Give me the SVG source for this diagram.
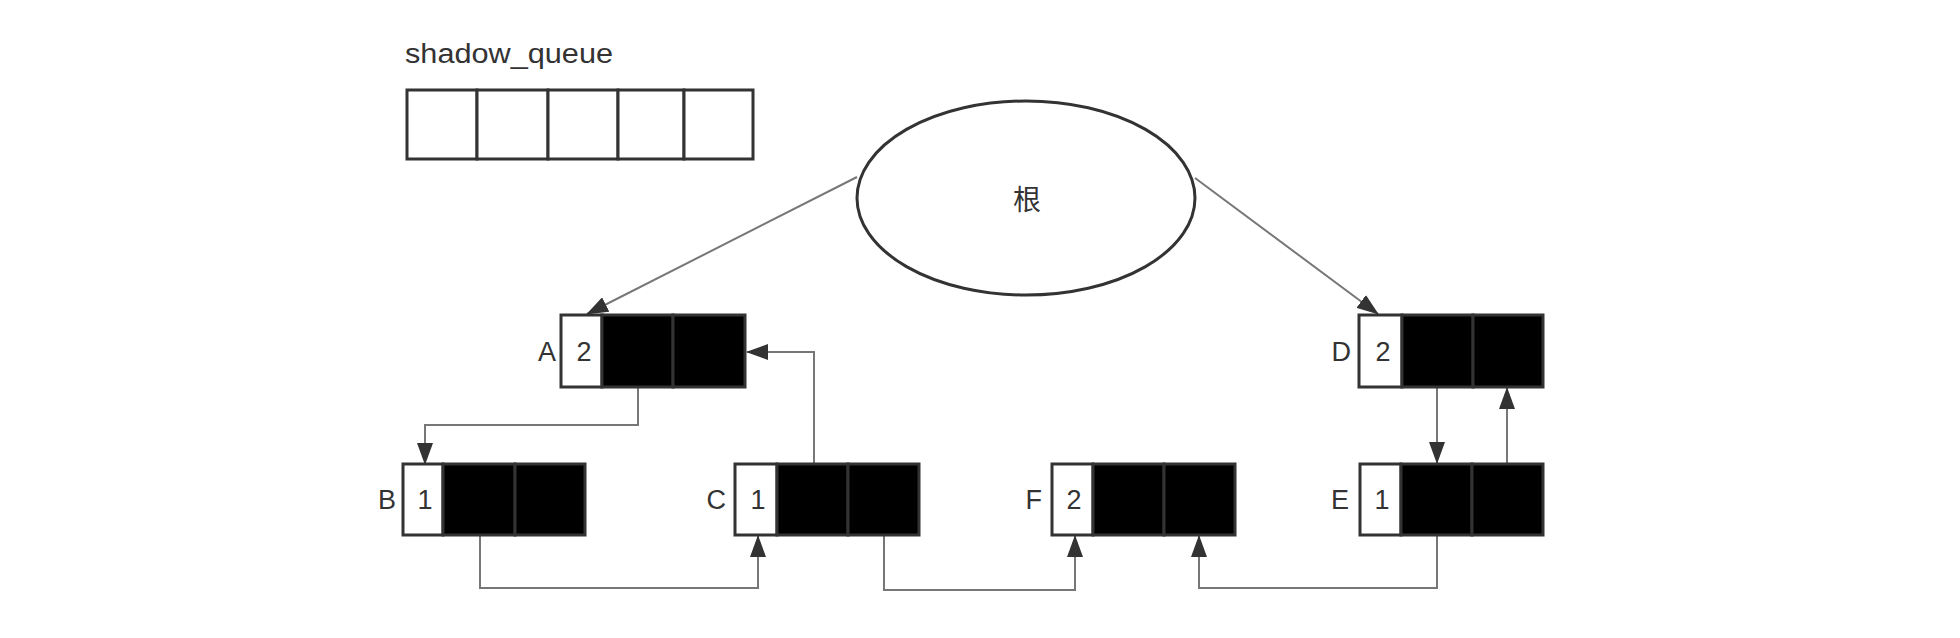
<svg xmlns="http://www.w3.org/2000/svg" width="1960" height="638" viewBox="0 0 1960 638">
<defs>
<style>
.lbl{font-family:"Liberation Sans",Arial,sans-serif;font-size:27px;fill:#333;}
.num{font-family:"Liberation Sans",Arial,sans-serif;font-size:27px;fill:#333;text-anchor:middle;}
.cell{stroke:#333;stroke-width:3;}
.w{fill:#fff;}
.b{fill:#000;}
.conn{fill:none;stroke:#777;stroke-width:2;}
</style>
<marker id="ah" viewBox="0 0 22 16" refX="21" refY="8" markerWidth="22" markerHeight="16" markerUnits="userSpaceOnUse" orient="auto">
<path d="M0,0 L22,8 L0,16 z" fill="#333"/>
</marker>
</defs>
<rect width="1960" height="638" fill="#fff"/>

<g id="shadow_queue">
<text x="405" y="63" class="lbl" textLength="208" lengthAdjust="spacingAndGlyphs" font-size="27">shadow_queue</text>
<rect x="407" y="90" width="70" height="69" class="cell w"/>
<rect x="477" y="90" width="71" height="69" class="cell w"/>
<rect x="548" y="90" width="70" height="69" class="cell w"/>
<rect x="618" y="90" width="66" height="69" class="cell w"/>
<rect x="684" y="90" width="69" height="69" class="cell w"/>
</g>

<g id="connectors">
<path class="conn" d="M857,177 L587,314" marker-end="url(#ah)"/>
<path class="conn" d="M1195,178 L1378,314" marker-end="url(#ah)"/>
<path class="conn" d="M638,387 V425 H425 V464" marker-end="url(#ah)"/>
<path class="conn" d="M814,463 V352 H747" marker-end="url(#ah)"/>
<path class="conn" d="M480,535 V588 H758 V536" marker-end="url(#ah)"/>
<path class="conn" d="M884,535 V590 H1075 V536" marker-end="url(#ah)"/>
<path class="conn" d="M1437,535 V588 H1199 V536" marker-end="url(#ah)"/>
<path class="conn" d="M1437,387 V463" marker-end="url(#ah)"/>
<path class="conn" d="M1507,463 V388" marker-end="url(#ah)"/>
</g>

<g id="root">
<ellipse cx="1026" cy="198" rx="169" ry="97" fill="#fff" stroke="#333" stroke-width="3"/>
<text x="1027" y="210" font-family="'Noto Sans CJK SC',sans-serif" font-size="28" fill="#333" text-anchor="middle">根</text>
</g>

<g id="node_A">
<text x="556" y="361" class="lbl" text-anchor="end">A</text>
<rect x="561" y="315" width="41" height="72" class="cell w"/>
<rect x="602" y="315" width="71" height="72" class="cell b"/>
<rect x="673" y="315" width="72" height="72" class="cell b"/>
<text x="584" y="361" class="num">2</text>
</g>

<g id="node_D">
<text x="1351" y="361" class="lbl" text-anchor="end">D</text>
<rect x="1359" y="315" width="43" height="72" class="cell w"/>
<rect x="1402" y="315" width="71" height="72" class="cell b"/>
<rect x="1473" y="315" width="70" height="72" class="cell b"/>
<text x="1383" y="361" class="num">2</text>
</g>

<g id="node_B">
<text x="396" y="509" class="lbl" text-anchor="end">B</text>
<rect x="403" y="464" width="40" height="71" class="cell w"/>
<rect x="443" y="464" width="72" height="71" class="cell b"/>
<rect x="515" y="464" width="70" height="71" class="cell b"/>
<text x="425" y="509" class="num">1</text>
</g>

<g id="node_C">
<text x="726" y="509" class="lbl" text-anchor="end">C</text>
<rect x="735" y="464" width="42" height="71" class="cell w"/>
<rect x="777" y="464" width="71" height="71" class="cell b"/>
<rect x="848" y="464" width="71" height="71" class="cell b"/>
<text x="758" y="509" class="num">1</text>
</g>

<g id="node_F">
<text x="1042" y="509" class="lbl" text-anchor="end">F</text>
<rect x="1052" y="464" width="41" height="71" class="cell w"/>
<rect x="1093" y="464" width="71" height="71" class="cell b"/>
<rect x="1164" y="464" width="71" height="71" class="cell b"/>
<text x="1074" y="509" class="num">2</text>
</g>

<g id="node_E">
<text x="1349" y="509" class="lbl" text-anchor="end">E</text>
<rect x="1360" y="464" width="41" height="71" class="cell w"/>
<rect x="1401" y="464" width="71" height="71" class="cell b"/>
<rect x="1472" y="464" width="71" height="71" class="cell b"/>
<text x="1382" y="509" class="num">1</text>
</g>
</svg>
